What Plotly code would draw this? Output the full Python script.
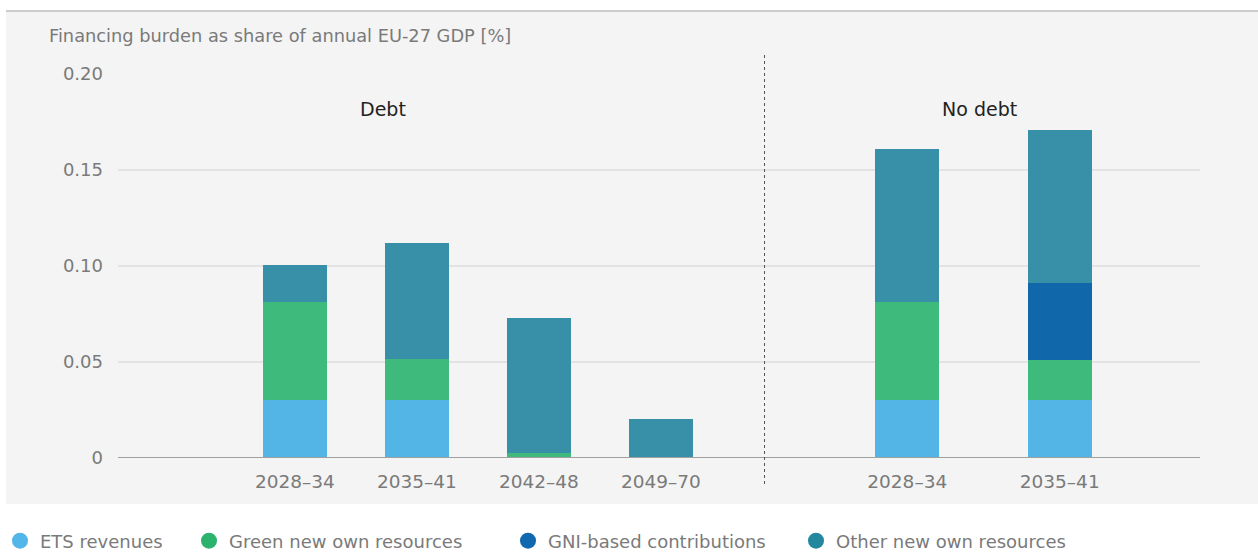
import plotly.graph_objects as go

# Periods per scenario
periods_debt = ["2028–34", "2035–41", "2042–48", "2049–70"]
periods_nodebt = ["2028–34", "2035–41"]

# Financing burden, % of annual EU-27 GDP (Debt scenario, then No-debt scenario)
ets = [0.030, 0.030, 0.000, 0.000, 0.030, 0.030]
green = [0.051, 0.0215, 0.0026, 0.000, 0.051, 0.021]
gni = [0.000, 0.000, 0.000, 0.000, 0.000, 0.040]
other = [0.0195, 0.0604, 0.0703, 0.0203, 0.080, 0.080]

series_names = ["ETS revenues", "Green new own resources",
                "GNI-based contributions", "Other new own resources"]
legend_colors = ["#52b6e8", "#2bb36e", "#1068ae", "#23879e"]
bar_colors = ["#52b5e6", "#3fba7d", "#1068ab", "#378fa8"]

y_ticks = [0, 0.05, 0.10, 0.15, 0.20]
y_tick_text = ["0", "0.05", "0.10", "0.15", "0.20"]

# x layout: slots for the two scenario groups
x_pos = [0, 1, 2, 3, 5.02, 6.27]
separator_x = 3.85
tick_labels = periods_debt + periods_nodebt

FONT = "DejaVu Sans"
GREY = "#7a7a7a"

W, H = 1258, 552
fig = go.Figure()

for vals, name, col in zip([ets, green, gni, other], series_names, bar_colors):
    fig.add_trace(go.Bar(
        x=x_pos, y=vals, name=name, marker=dict(color=col, line=dict(width=0)),
        width=0.525, showlegend=False, hoverinfo="y+name",
    ))

# Round legend markers, each in its own legend box
legend_left_px = [-1, 189, 508, 796]
legend_ids = ["legend", "legend2", "legend3", "legend4"]
for name, col, lid in zip(series_names, legend_colors, legend_ids):
    fig.add_trace(go.Scatter(
        x=[None], y=[None], mode="markers", name=name, legend=lid,
        marker=dict(symbol="circle", size=18, color=col),
    ))

legend_style = dict(
    orientation="h", xref="container", yref="container",
    yanchor="middle", xanchor="left", y=(H - 541) / H,
    font=dict(size=18, color=GREY), bgcolor="rgba(0,0,0,0)",
)
legend_layout = {}
for lid, px in zip(legend_ids, legend_left_px):
    legend_layout[lid] = dict(legend_style, x=px / W)

fig.update_layout(
    width=W, height=H,
    barmode="stack",
    paper_bgcolor="white",
    plot_bgcolor="rgba(0,0,0,0)",
    margin=dict(l=118, r=58, t=74, b=94),
    font=dict(family=FONT, size=17, color=GREY),
    xaxis=dict(
        range=[-1.45, 7.42], tickvals=x_pos, ticktext=tick_labels,
        showgrid=False, zeroline=False, showline=False, ticks="",
        ticklabelstandoff=10,
        tickfont=dict(size=18.5, color=GREY), fixedrange=True,
    ),
    yaxis=dict(
        range=[0, 0.2], tickvals=y_ticks, ticktext=y_tick_text,
        showgrid=True, gridcolor="#e3e3e3", gridwidth=2,
        zeroline=False, showline=False, ticks="", ticklabelstandoff=14,
        tickfont=dict(size=18, color=GREY),
    ),
    bargap=0,
    **legend_layout,
)

# Grey panel behind the chart and its top rule
fig.add_shape(type="rect", xref="paper", yref="paper",
              x0=-112 / 1082, x1=1140 / 1082, y0=-46 / 384, y1=446 / 384,
              fillcolor="#f4f4f4", line=dict(width=0), layer="below")
fig.add_shape(type="line", xref="paper", yref="paper",
              x0=-112 / 1082, x1=1140 / 1082, y0=447 / 384, y1=447 / 384,
              line=dict(color="#cccccc", width=2), layer="below")

# Baseline
fig.add_shape(type="line", xref="paper", yref="y", x0=0, x1=1, y0=0, y1=0,
              line=dict(color="#a0a0a0", width=2), layer="above")

# Scenario separator
fig.add_shape(type="line", xref="x", yref="paper", x0=separator_x, x1=separator_x,
              y0=-26 / 384, y1=406 / 384,
              line=dict(color="#555555", width=1, dash="dot"), layer="above")

# Y axis title
fig.add_annotation(text="Financing burden as share of annual EU-27 GDP [%]",
                   xref="paper", yref="paper", x=-71 / 1082, y=39 / 384 + 1,
                   xanchor="left", yanchor="middle", showarrow=False,
                   font=dict(size=17.8, color=GREY))

# Scenario labels
fig.add_annotation(text="Debt", xref="x", yref="paper", x=0.72, y=(458 - 96) / 384,
                   showarrow=False, font=dict(size=19, color="#222222"))
fig.add_annotation(text="No debt", xref="x", yref="paper", x=5.61, y=(458 - 96) / 384,
                   showarrow=False, font=dict(size=19, color="#222222"))

fig.write_html("out.html")
